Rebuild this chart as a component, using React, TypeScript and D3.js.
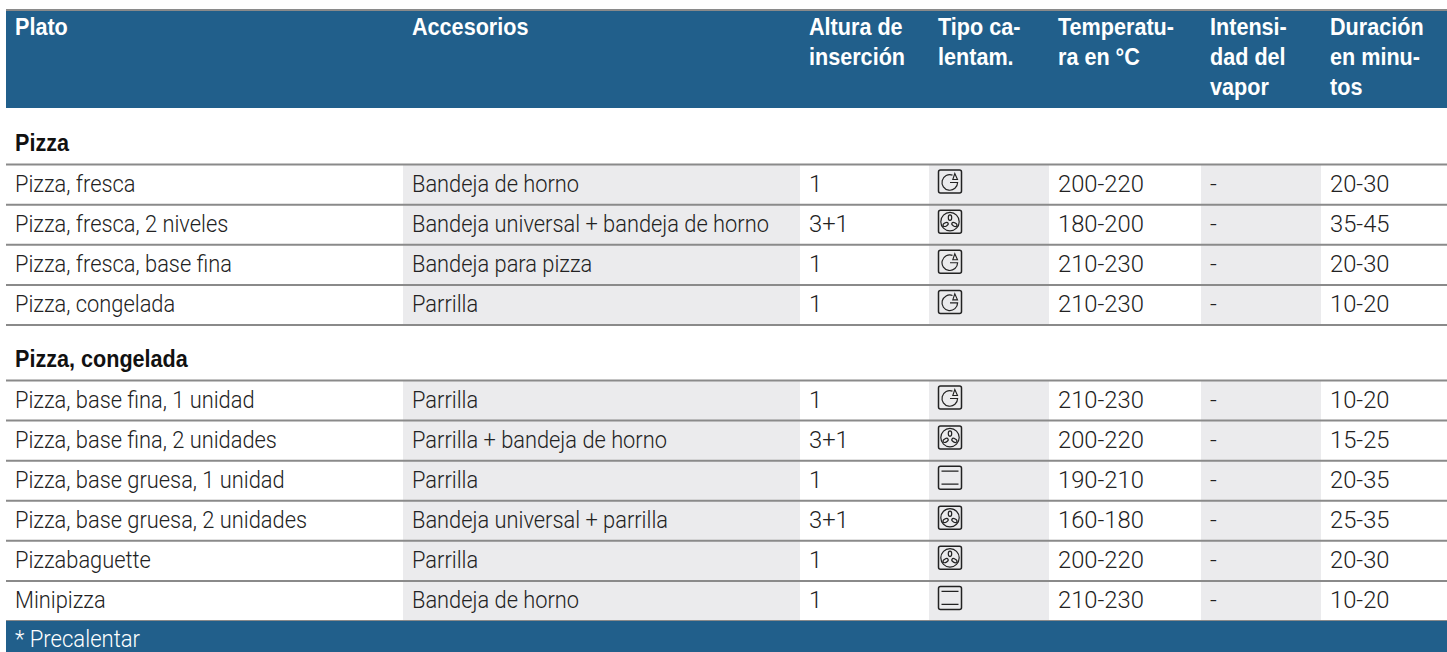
import React from "react";
import * as d3 from "d3";

const columns = ["plato", "accesorios", "altura", "tipo", "temp", "intensidad", "duracion"];
const columnLeft = [6, 403, 800, 929, 1049, 1201, 1321, 1447];
const shaded = ["accesorios", "tipo", "intensidad"];
const numeric = ["altura", "temp", "intensidad", "duracion"];

const headers = [
  ["Plato"],
  ["Accesorios"],
  ["Altura de", "inserción"],
  ["Tipo ca-", "lentam."],
  ["Temperatu-", "ra en °C"],
  ["Intensi-", "dad del", "vapor"],
  ["Duración", "en minu-", "tos"],
];

const sectionOne = "Pizza";
const sectionTwo = "Pizza, congelada";
const footNote = "* Precalentar";

// plato, accesorios, altura, tipo, temp, intensidad, duracion
const rowsOne = [
  ["Pizza, fresca", "Bandeja de horno", "1", "top", "200-220", "-", "20-30"],
  ["Pizza, fresca, 2 niveles", "Bandeja universal + bandeja de horno", "3+1", "fan", "180-200", "-", "35-45"],
  ["Pizza, fresca, base fina", "Bandeja para pizza", "1", "top", "210-230", "-", "20-30"],
  ["Pizza, congelada", "Parrilla", "1", "top", "210-230", "-", "10-20"],
];
const rowsTwo = [
  ["Pizza, base fina, 1 unidad", "Parrilla", "1", "top", "210-230", "-", "10-20"],
  ["Pizza, base fina, 2 unidades", "Parrilla + bandeja de horno", "3+1", "fan", "200-220", "-", "15-25"],
  ["Pizza, base gruesa, 1 unidad", "Parrilla", "1", "bars", "190-210", "-", "20-35"],
  ["Pizza, base gruesa, 2 unidades", "Bandeja universal + parrilla", "3+1", "fan", "160-180", "-", "25-35"],
  ["Pizzabaguette", "Parrilla", "1", "fan", "200-220", "-", "20-30"],
  ["Minipizza", "Bandeja de horno", "1", "bars", "210-230", "-", "10-20"],
];

const BLUE = "#215f8b";
const SHADE = "#ebebed";
const RULE = "#8a8a8a";
const INK = "#222";
const LIGHT = "Roboto, 'Liberation Sans', sans-serif";
const BOLD = "'Liberation Sans', sans-serif";

// condensed text: real text, squeezed horizontally
const Narrow = ({ x, y, size, sx, family, weight, fill, children }) => (
  <text
    transform={`translate(${x},${y}) scale(${sx},1)`}
    fontSize={size}
    fontFamily={family}
    fontWeight={weight}
    fill={fill}
  >
    {children}
  </text>
);

const Icon = ({ kind, x, y }) => (
  <g transform={`translate(${x},${y})`} fill="none" stroke="#222" strokeWidth={1.2}>
    <rect x={0.5} y={0.5} width={23} height={23} rx={2} strokeWidth={1.5} />
    {kind === "bars" && <path d="M3.5,5.5 H20.5 M3.5,18.5 H20.5" />}
    {kind === "top" && (
      <g>
        <path d="M14.5,5.6 A7.8,7.8 0 1 0 19.6,13 H12 " />
        <path d="M14.8,10 L16.8,4 L19.5,10 Z" strokeWidth={1.1} />
      </g>
    )}
    {kind === "fan" && (
      <g>
        <circle cx={12} cy={12} r={9.2} />
        <ellipse cx={12} cy={8} rx={1.7} ry={2.7} />
        <ellipse cx={7.6} cy={14.8} rx={2.8} ry={1.7} transform="rotate(-30 7.6 14.8)" />
        <ellipse cx={16.4} cy={14.8} rx={2.8} ry={1.7} transform="rotate(30 16.4 14.8)" />
      </g>
    )}
  </g>
);

const App = () => {
  const width = 1447;
  const height = 652;

  const x = d3.scaleOrdinal<string, number>().domain(columns).range(columnLeft);
  const nextX = (c: string) => columnLeft[columns.indexOf(c) + 1];
  const yOne = d3.scaleBand<number>().domain(d3.range(rowsOne.length)).range([164.5, 325]);
  const yTwo = d3.scaleBand<number>().domain(d3.range(rowsTwo.length)).range([380.5, 621]);

  const pad = 9;

  const drawRows = (rows: string[][], y: d3.ScaleBand<number>) =>
    rows.map((row, i) => {
      const top = y(i)!;
      return (
        <g key={i}>
          {columns.map((c, j) =>
            c === "tipo" ? (
              <Icon key={c} kind={row[j]} x={x(c) + 9} y={top + 5} />
            ) : (
              <Narrow
                key={c}
                x={x(c) + pad}
                y={top + 27}
                size={24}
                sx={numeric.includes(c) ? 0.99 : 0.91}
                family={LIGHT}
                weight={300}
                fill={INK}
              >
                {row[j]}
              </Narrow>
            )
          )}
        </g>
      );
    });

  const drawShade = (y: d3.ScaleBand<number>) =>
    shaded.map((c) => (
      <rect
        key={c}
        x={x(c)}
        y={y.range()[0]}
        width={nextX(c) - x(c)}
        height={y.range()[1] - y.range()[0]}
        fill={SHADE}
      />
    ));

  const drawRules = (y: d3.ScaleBand<number>, n: number) =>
    d3.range(n + 1).map((i) => {
      const ry = i === n ? y.range()[1] : y(i)!;
      return <line key={i} x1={6} x2={width} y1={ry} y2={ry} stroke={RULE} strokeWidth={2} />;
    });

  return (
    <svg width={width} height={height} style={{ position: "absolute", left: 0, top: 0 }}>
      <rect x={6} y={9} width={width - 6} height={99} fill={BLUE} />
      <rect x={6} y={9} width={width - 6} height={2} fill={RULE} />
      {headers.map((lines, j) =>
        lines.map((t, k) => (
          <Narrow key={`${j}-${k}`} x={x(columns[j]) + pad} y={35 + k * 30} size={24} sx={0.9} family={BOLD} weight={700} fill="#fff">
            {t}
          </Narrow>
        ))
      )}

      <Narrow x={15} y={151} size={24} sx={0.9} family={BOLD} weight={700} fill="#111">{sectionOne}</Narrow>
      {drawShade(yOne)}
      {drawRules(yOne, rowsOne.length)}
      {drawRows(rowsOne, yOne)}

      <Narrow x={15} y={367} size={24} sx={0.9} family={BOLD} weight={700} fill="#111">{sectionTwo}</Narrow>
      {drawShade(yTwo)}
      {drawRules(yTwo, rowsTwo.length)}
      {drawRows(rowsTwo, yTwo)}

      <rect x={6} y={621} width={width - 6} height={31} fill={BLUE} />
      <Narrow x={15} y={647} size={24} sx={0.92} family={LIGHT} weight={300} fill="#fff">{footNote}</Narrow>
    </svg>
  );
};

export default App;
